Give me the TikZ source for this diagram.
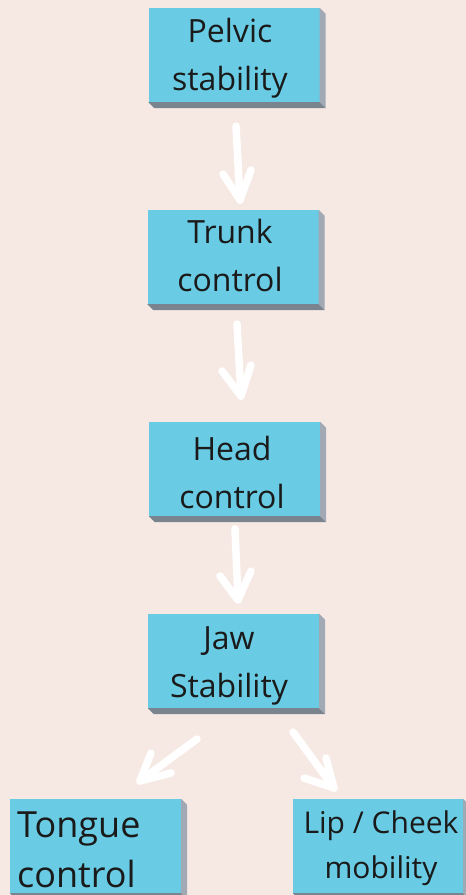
\documentclass[tikz,border=0pt]{standalone}
\usepackage{fontspec}
\setmainfont{Open Sans}
\definecolor{bgc}{HTML}{F6E9E4}
\definecolor{boxc}{HTML}{69CCE4}
\definecolor{sidec}{HTML}{A0A9B4}
\definecolor{botc}{HTML}{7A848E}
\definecolor{txtc}{HTML}{1A1A1A}
\tikzset{
  blk/.style={fill=boxc, draw=none, inner sep=0pt, minimum width=171pt, minimum height=94pt},
  lbl/.style={text=txtc, inner sep=0pt, align=center, anchor=base, font=\fontsize{32}{48}\selectfont},
  arr/.style={draw=white, line width=7.5pt, line cap=round, line join=round},
}
\newcommand{\boxfaces}[1]{%
  \fill[sidec] (#1.north east) -- ++(6,6) -- ($(#1.south east)+(6,6)$) -- (#1.south east) -- cycle;
  \fill[botc] (#1.south west) -- (#1.south east) -- ++(6,6) -- ($(#1.south west)+(6,6)$) -- cycle;
}
\usetikzlibrary{calc}
\begin{document}
\begin{tikzpicture}[x=1pt,y=-1pt]
\fill[bgc] (0,0) rectangle (466,895);
\useasboundingbox (0,0) rectangle (466,895);

\node[blk] (pelvic) at (234,55) {};
\node[blk] (trunk) at (233,257) {};
\node[blk] (head) at (234.5,469) {};
\node[blk] (jaw) at (233.5,661) {};
\node[blk, minimum width=171pt] (tongue) at (95.5,846) {};
\node[blk, minimum width=170pt] (lip) at (378,846) {};
\foreach \n in {pelvic,trunk,head,jaw,tongue,lip} {\boxfaces{\n}}

\node[lbl] (pelvict) at (230,90) {Pelvic\\stability};
\node[lbl] (trunkt) at (230,291) {Trunk\\control};
\node[lbl] (headt) at (232,508) {Head\\control};
\node[lbl] (jawt) at (229,697) {Jaw\\Stability};
\node[lbl, align=left, anchor=base west, font=\fontsize{36}{50}\selectfont] (tonguet) at (17,887) {Tongue\\control};
\node[lbl, font=\fontsize{30}{45}\selectfont] (lipt) at (381,878) {Lip / Cheek\\mobility};

% arrows
\coordinate (a1s) at (236,126); \coordinate (a1t) at (240,200);
\coordinate (a1l) at (223,174); \coordinate (a1r) at (251,170);
\draw[arr] (a1s) -- (a1t); \draw[arr] (a1l) -- (a1t) -- (a1r);

\coordinate (a2s) at (237,324); \coordinate (a2t) at (241,396);
\coordinate (a2l) at (222,371); \coordinate (a2r) at (251,365);
\draw[arr] (a2s) -- (a2t); \draw[arr] (a2l) -- (a2t) -- (a2r);

\coordinate (a3s) at (235,529); \coordinate (a3t) at (238,600);
\coordinate (a3l) at (220,576); \coordinate (a3r) at (251,571);
\draw[arr] (a3s) -- (a3t); \draw[arr] (a3l) -- (a3t) -- (a3r);

\coordinate (a4s) at (197,739); \coordinate (a4t) at (140,781);
\coordinate (a4u) at (151,753); \coordinate (a4r) at (171,773);
\draw[arr] (a4s) -- (a4t); \draw[arr] (a4u) -- (a4t) -- (a4r);

\coordinate (a5s) at (293,732); \coordinate (a5t) at (334,788);
\coordinate (a5l) at (304,778); \coordinate (a5u) at (326,758);
\draw[arr] (a5s) -- (a5t); \draw[arr] (a5l) -- (a5t) -- (a5u);
\end{tikzpicture}
\end{document}
